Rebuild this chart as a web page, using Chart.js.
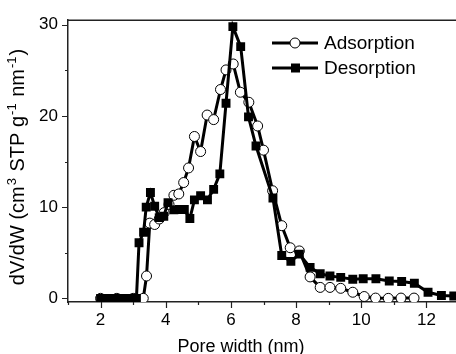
<!DOCTYPE html>
<html>
<head>
<meta charset="utf-8">
<script src="https://cdn.jsdelivr.net/npm/chart.js@4.4.1/dist/chart.umd.min.js"></script>
<style>
  html, body { margin: 0; padding: 0; background: #fff; overflow: hidden; }
  #wrap { width: 466px; height: 354px; }
</style>
</head>
<body>
<div id="wrap"><canvas id="poreChart"></canvas></div>
<script>
// Pore size distribution data
const adsX = [2.0, 2.5, 3.0, 3.31, 3.41, 3.51, 3.66, 3.80, 3.95, 4.10, 4.25, 4.40, 4.55, 4.70, 4.88, 5.07, 5.27, 5.47, 5.68, 5.85, 6.07, 6.29, 6.55, 6.82, 7.0, 7.28, 7.56, 7.82, 8.10, 8.43, 8.74, 9.04, 9.37, 9.74, 10.09, 10.44, 10.83, 11.22, 11.62];
const adsY = [0, 0, 0, 0, 2.45, 8.25, 8.1, 8.7, 9.4, 10.3, 11.3, 11.45, 12.7, 14.3, 17.75, 16.1, 20.1, 19.6, 22.9, 25.05, 25.7, 22.6, 21.5, 18.9, 16.25, 11.8, 7.97, 5.55, 5.2, 2.35, 1.2, 1.2, 1.1, 0.67, 0.2, 0.03, 0, 0.03, 0.03];

const desX = [2.00, 2.05, 2.10, 2.15, 2.20, 2.25, 2.30, 2.35, 2.40, 2.45, 2.50, 2.55, 2.60, 2.65, 2.70, 2.75, 2.80, 2.85, 2.90, 2.95, 3.00, 3.05, 3.10,
  3.18, 3.32, 3.40, 3.53, 3.66, 3.80, 3.94, 4.07, 4.25, 4.41, 4.57, 4.74, 4.88, 5.07, 5.28, 5.47, 5.66, 5.85, 6.06, 6.30, 6.54, 6.77, 7.29, 7.56, 7.84, 8.10, 8.43, 8.74, 9.04, 9.37, 9.74, 10.06, 10.45, 10.86, 11.24, 11.63, 12.05, 12.46, 12.84];
const desY = [0, 0, 0, 0, 0, 0, 0, 0, 0, 0, 0, 0, 0, 0, 0, 0, 0, 0, 0, 0, 0, 0, 0,
  6.1, 7.25, 10.0, 11.6, 10.1, 8.85, 9.0, 10.5, 9.7, 9.75, 9.75, 8.75, 10.8, 11.25, 10.8, 11.95, 13.65, 21.4, 29.8, 27.6, 19.9, 16.7, 11.0, 4.7, 4.05, 4.85, 3.4, 2.7, 2.45, 2.3, 2.1, 2.15, 2.15, 1.9, 1.85, 1.65, 0.67, 0.32, 0.25];

const xTicks = [2, 4, 6, 8, 10, 12];
const xMinor = [1, 3, 5, 7, 9, 11, 13];
const yTicks = [0, 10, 20, 30];
const yMinor = [5, 15, 25];
const seriesNames = ['Adsorption', 'Desorption'];

const FONT = 'Liberation Sans, Arial, sans-serif';

// y title pieces: [text, superscript?]
const yTitleParts = [['dV/dW (cm', false], ['3', true], [' STP g', false], ['-1', true], [' nm', false], ['-1', true], [')', false]];

function toPoints(xs, ys) {
    return xs.map((x, i) => ({ x: x, y: ys[i] }));
}

function drawRichTitle(ctx, parts, cx, cy) {
    const mainFont = '20px ' + FONT;
    const supFont = '13px ' + FONT;
    let total = 0;
    const widths = parts.map(([t, sup]) => {
        ctx.font = sup ? supFont : mainFont;
        const w = ctx.measureText(t).width + (sup ? 2 : 0);
        total += w;
        return w;
    });
    ctx.save();
    ctx.translate(cx, cy);
    ctx.rotate(-Math.PI / 2);
    ctx.textAlign = 'left';
    ctx.textBaseline = 'alphabetic';
    let pos = -total / 2;
    parts.forEach(([t, sup], i) => {
        ctx.font = sup ? supFont : mainFont;
        ctx.fillText(t, pos + (sup ? 1 : 0), sup ? -1 : 7);
        pos += widths[i];
    });
    ctx.restore();
}

// Frame, minor/major tick marks, axis titles and legend
const decorPlugin = {
    id: 'decor',
    afterDraw(chart) {
        const { ctx, chartArea: area, scales: { x, y } } = chart;
        ctx.save();
        ctx.strokeStyle = '#222';
        ctx.lineWidth = 1.5;
        ctx.beginPath();
        ctx.moveTo(area.left, area.top);
        ctx.lineTo(area.right, area.top);
        ctx.stroke();

        ctx.lineWidth = 1.2;
        ctx.beginPath();
        xTicks.forEach(v => {
            const px = Math.round(x.getPixelForValue(v)) + 0.5;
            ctx.moveTo(px, area.bottom); ctx.lineTo(px, area.bottom + 6);
        });
        xMinor.forEach(v => {
            const px = Math.round(x.getPixelForValue(v)) + 0.5;
            ctx.moveTo(px, area.bottom); ctx.lineTo(px, area.bottom + 3);
        });
        yTicks.forEach(v => {
            const py = Math.round(y.getPixelForValue(v)) + 0.5;
            ctx.moveTo(area.left, py); ctx.lineTo(area.left - 6, py);
        });
        yMinor.forEach(v => {
            const py = Math.round(y.getPixelForValue(v)) + 0.5;
            ctx.moveTo(area.left, py); ctx.lineTo(area.left - 3, py);
        });
        ctx.stroke();

        // axis titles
        ctx.fillStyle = '#000';
        ctx.font = '18px ' + FONT;
        ctx.textAlign = 'center';
        ctx.textBaseline = 'middle';
        ctx.fillText('Pore width (nm)', 241, 347);

        drawRichTitle(ctx, yTitleParts, 17, 167);

        // legend
        const rows = [43, 68];
        chart.data.datasets.forEach((ds, i) => {
            const ly = rows[i];
            ctx.strokeStyle = '#000';
            ctx.lineWidth = 3;
            ctx.beginPath();
            ctx.moveTo(272, ly); ctx.lineTo(318, ly);
            ctx.stroke();
            if (ds.pointStyle === 'circle') {
                ctx.fillStyle = '#fff';
                ctx.lineWidth = 1;
                ctx.beginPath();
                ctx.arc(295, ly, 5, 0, Math.PI * 2);
                ctx.fill(); ctx.stroke();
            } else {
                ctx.fillStyle = '#000';
                ctx.fillRect(291, ly - 4.5, 9, 9);
            }
            ctx.fillStyle = '#000';
            ctx.font = '19px ' + FONT;
            ctx.textAlign = 'left';
            ctx.textBaseline = 'middle';
            ctx.fillText(seriesNames[i], 324, ly + 1);
        });
        ctx.restore();
    }
};

const ctx = document.getElementById('poreChart').getContext('2d');
const chart = new Chart(ctx, {
    type: 'line',
    data: {
        datasets: [
            {
                label: seriesNames[0],
                data: toPoints(adsX, adsY),
                borderColor: '#000',
                borderWidth: 3,
                pointStyle: 'circle',
                pointRadius: 5,
                pointBackgroundColor: '#fff',
                pointBorderColor: '#000',
                pointBorderWidth: 1,
                tension: 0,
                order: 2
            },
            {
                label: seriesNames[1],
                data: toPoints(desX, desY),
                borderColor: '#000',
                borderWidth: 3,
                pointStyle: 'rect',
                pointRadius: 6.3,
                pointBackgroundColor: '#000',
                pointBorderColor: '#000',
                pointBorderWidth: 0,
                tension: 0,
                order: 1
            }
        ]
    },
    options: {
        responsive: true,
        maintainAspectRatio: false,
        animation: false,
        layout: { padding: { top: 13, right: 7, left: 0, bottom: 0 } },
        plugins: {
            legend: { display: false },
            tooltip: { enabled: false }
        },
        scales: {
            x: {
                type: 'linear',
                min: 1,
                max: 13,
                grid: { display: false, drawTicks: false },
                border: { display: true, color: '#222', width: 1.5 },
                afterBuildTicks: (scale) => { scale.ticks = xTicks.map(v => ({ value: v })); },
                afterFit: (scale) => { scale.height = 52; },
                ticks: {
                    color: '#000',
                    font: { family: FONT, size: 17 },
                    padding: 8,
                    maxRotation: 0
                }
            },
            y: {
                type: 'linear',
                min: -0.4,
                max: 30.5,
                grid: { display: false, drawTicks: false },
                border: { display: true, color: '#222', width: 1.5 },
                afterBuildTicks: (scale) => { scale.ticks = yTicks.map(v => ({ value: v })); },
                afterFit: (scale) => { scale.width = 68; },
                ticks: {
                    color: '#000',
                    font: { family: FONT, size: 17 },
                    padding: 10
                }
            }
        }
    },
    plugins: [decorPlugin]
});
</script>
</body>
</html>
